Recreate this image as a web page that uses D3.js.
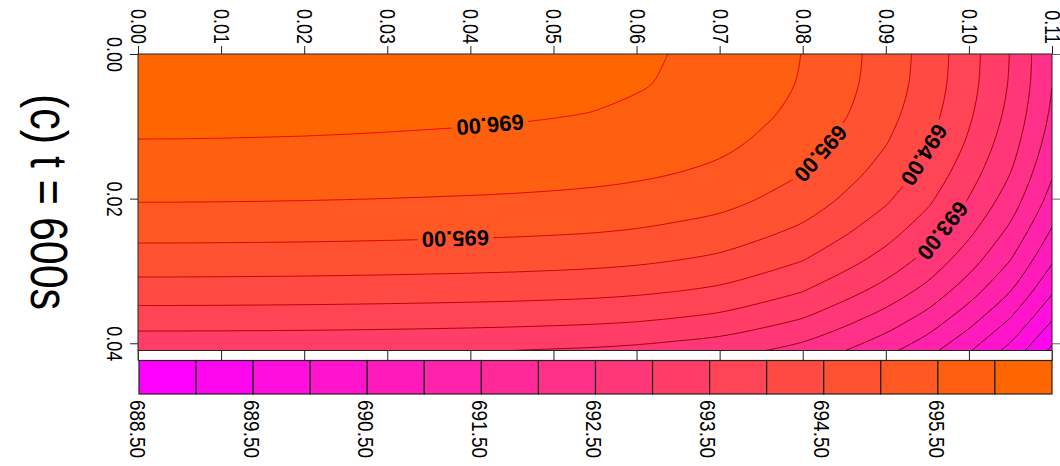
<!DOCTYPE html>
<html>
<head>
<meta charset="utf-8">
<script src="https://cdn.jsdelivr.net/npm/d3@7"></script>
<style>
  html, body { margin: 0; padding: 0; background: #fff; }
  svg { display: block; font-family: "Liberation Sans", Arial, Helvetica, sans-serif; }
</style>
</head>
<body>
<svg id="chart" width="1060" height="466"></svg>
<script>
// Temperature field sampled on a regular grid (x along the top, y downward)
const xGrid = [0, 0.005, 0.01, 0.015, 0.02, 0.025, 0.03, 0.035, 0.04, 0.045, 0.05, 0.055,
               0.06, 0.065, 0.07, 0.075, 0.08, 0.085, 0.09, 0.095, 0.1, 0.105, 0.11];
const yGrid = [0, 0.0041, 0.0082, 0.0123, 0.0164, 0.0205, 0.0246, 0.0287, 0.0328, 0.0369, 0.041];

const tempRows = [
  [696.250, 696.249, 696.246, 696.241, 696.235, 696.226, 696.215, 696.202, 696.188, 696.170, 696.145, 696.112, 696.060, 695.980, 695.880, 695.700, 695.490, 695.160, 694.790, 694.320, 693.700, 692.980, 692.040],
  [696.220, 696.219, 696.216, 696.211, 696.205, 696.196, 696.185, 696.172, 696.158, 696.140, 696.115, 696.082, 696.030, 695.950, 695.850, 695.670, 695.460, 695.130, 694.760, 694.290, 693.670, 692.950, 692.010],
  [696.130, 696.129, 696.126, 696.121, 696.115, 696.106, 696.095, 696.082, 696.068, 696.050, 696.025, 695.992, 695.940, 695.860, 695.760, 695.580, 695.370, 695.040, 694.670, 694.200, 693.580, 692.860, 691.920],
  [695.980, 695.979, 695.976, 695.971, 695.965, 695.956, 695.945, 695.932, 695.918, 695.900, 695.875, 695.842, 695.790, 695.710, 695.610, 695.430, 695.220, 694.890, 694.520, 694.050, 693.430, 692.710, 691.770],
  [695.770, 695.769, 695.766, 695.761, 695.755, 695.746, 695.735, 695.722, 695.708, 695.690, 695.665, 695.632, 695.580, 695.500, 695.400, 695.220, 695.010, 694.680, 694.310, 693.840, 693.220, 692.500, 691.560],
  [695.500, 695.499, 695.496, 695.491, 695.485, 695.476, 695.465, 695.452, 695.438, 695.420, 695.395, 695.362, 695.310, 695.230, 695.130, 694.950, 694.740, 694.410, 694.040, 693.570, 692.950, 692.230, 691.290],
  [695.150, 695.149, 695.146, 695.141, 695.135, 695.126, 695.115, 695.102, 695.088, 695.070, 695.045, 695.012, 694.960, 694.880, 694.780, 694.600, 694.390, 694.060, 693.690, 693.220, 692.600, 691.880, 690.940],
  [694.750, 694.749, 694.746, 694.741, 694.735, 694.726, 694.715, 694.702, 694.688, 694.670, 694.645, 694.612, 694.560, 694.480, 694.380, 694.200, 693.990, 693.660, 693.290, 692.820, 692.200, 691.480, 690.540],
  [694.270, 694.269, 694.266, 694.261, 694.255, 694.246, 694.235, 694.222, 694.208, 694.190, 694.165, 694.132, 694.080, 694.000, 693.900, 693.720, 693.510, 693.180, 692.810, 692.340, 691.720, 691.000, 690.060],
  [693.710, 693.709, 693.706, 693.701, 693.695, 693.686, 693.675, 693.662, 693.648, 693.630, 693.605, 693.572, 693.520, 693.440, 693.340, 693.160, 692.950, 692.620, 692.250, 691.780, 691.160, 690.440, 689.500],
  [693.100, 693.099, 693.096, 693.091, 693.085, 693.076, 693.065, 693.052, 693.028, 693.000, 692.965, 692.932, 692.875, 692.790, 692.690, 692.520, 692.320, 692.010, 691.640, 691.170, 690.550, 689.830, 688.890]
];

// Contour levels (band edges) and the colour bar ticks
const levels = [688.5, 689, 689.5, 690, 690.5, 691, 691.5, 692, 692.5, 693, 693.5, 694, 694.5, 695, 695.5, 696, 696.5];
const barTicks = [688.5, 689.5, 690.5, 691.5, 692.5, 693.5, 694.5, 695.5];
const xTicks = [0, 0.01, 0.02, 0.03, 0.04, 0.05, 0.06, 0.07, 0.08, 0.09, 0.10, 0.11];
const yTicks = [0, 0.02, 0.04];

// Inline contour labels: level and the spot near which it sits
const labelSpots = [
  { level: 696, x: 0.0424, y: 0.0102 },
  { level: 695, x: 0.0382, y: 0.0257 },
  { level: 695, x: 0.0822, y: 0.0138 },
  { level: 694, x: 0.0944, y: 0.0138 },
  { level: 693, x: 0.0966, y: 0.0242 }
];

const titleText = "(c) t = 600s";

// ---------------------------------------------------------------
const svg = d3.select("#chart");
const plot = { left: 138, right: 1052, top: 54, bottom: 350.5 };
const bar = { left: 139, right: 1052, top: 360.5, bottom: 394 };

const x = d3.scaleLinear().domain([0, 0.11]).range([plot.left, plot.right]);
const y = d3.scaleLinear().domain([0, 0.041]).range([plot.top, plot.bottom]);
const cb = d3.scaleLinear().domain([levels[0], levels[levels.length - 1]]).range([bar.left, bar.right]);

const nx = xGrid.length, ny = yGrid.length;
const dxg = xGrid[1] - xGrid[0], dyg = yGrid[1] - yGrid[0];
const values = tempRows.flat();

const contours = d3.contours().size([nx, ny]).thresholds(levels)(values);

// grid coordinate -> screen (sample i sits at grid coordinate i + 0.5)
const gx = px => x(xGrid[0] + (px - 0.5) * dxg);
const gy = py => y(yGrid[0] + (py - 0.5) * dyg);

// Band outline: the iso-line stretches are drawn as rounded curves,
// the stretches along the grid border stay straight.
const onEdge = p => p[0] <= 0 || p[0] >= nx || p[1] <= 0 || p[1] >= ny;
function ringPath(ring) {
  const pts = [];
  ring.slice(0, -1).forEach(p => {
    const last = pts[pts.length - 1];
    if (!last || Math.hypot(p[0] - last[0], p[1] - last[1]) > 1e-4) pts.push(p);
  });
  const n = pts.length;
  if (n < 3) return "";
  const P = pts.map(p => [gx(p[0]), gy(p[1])]);
  const ctx = d3.path();
  const s = pts.findIndex(onEdge);
  if (s < 0) {
    d3.line().curve(d3.curveCatmullRomClosed.alpha(0.5)).context(ctx)(P);
    return ctx.toString();
  }
  const cont = {
    moveTo: (a, b) => ctx.lineTo(a, b),
    lineTo: (a, b) => ctx.lineTo(a, b),
    bezierCurveTo: (a, b, c, d, e, f) => ctx.bezierCurveTo(a, b, c, d, e, f),
    closePath: () => {}
  };
  const runLine = d3.line().curve(d3.curveCatmullRom.alpha(0.5)).context(cont);
  ctx.moveTo(P[s][0], P[s][1]);
  let run = [];
  for (let k = 1; k <= n; k++) {
    const i = (s + k) % n;
    if (onEdge(pts[i])) {
      if (run.length) { runLine(run); run = []; }
      ctx.lineTo(P[i][0], P[i][1]);
    } else {
      run.push(P[i]);
    }
  }
  if (run.length) runLine(run);
  ctx.closePath();
  return ctx.toString();
}
const bandPath = mp => mp.coordinates.map(poly => poly.map(ringPath).join("")).join("");

const bandColor = d3.scaleLinear()
  .domain([0, levels.length - 2])
  .range(["#ff00ff", "#ff6600"])
  .interpolate(d3.interpolateRgb);
const lineColor = v => d3.interpolateRgb("#000000", "#ff0000")((v - levels[0]) / (levels[levels.length - 1] - levels[0]));

const defs = svg.append("defs");
defs.append("clipPath").attr("id", "plotClip")
  .append("rect")
  .attr("x", plot.left).attr("y", plot.top)
  .attr("width", plot.right - plot.left).attr("height", plot.bottom - plot.top);

// filled bands
const fills = svg.append("g").attr("clip-path", "url(#plotClip)");
fills.selectAll("path")
  .data(contours)
  .join("path")
  .attr("d", bandPath)
  .attr("fill", (d, i) => bandColor(Math.min(i, levels.length - 2)))
  .attr("stroke", "none");

// label placement on the contour lines
const fmt = d3.format(".2f");
function placeLabel(spot) {
  const c = contours.find(d => Math.abs(d.value - spot.level) < 1e-9);
  const tx = x(spot.x), ty = y(spot.y);
  let best = null;
  c.coordinates.forEach(poly => poly.forEach(ring => {
    const pts = ring.map(p => [gx(p[0]), gy(p[1])]);
    for (let i = 0; i < pts.length - 1; i++) {
      const a = pts[i], b = pts[i + 1];
      const vx = b[0] - a[0], vy = b[1] - a[1];
      const L2 = vx * vx + vy * vy;
      if (!L2) continue;
      let t = ((tx - a[0]) * vx + (ty - a[1]) * vy) / L2;
      t = Math.max(0, Math.min(1, t));
      const px = a[0] + t * vx, py = a[1] + t * vy;
      const dd = (px - tx) ** 2 + (py - ty) ** 2;
      if (!best || dd < best.dd) best = { dd, px, py, vx, vy };
    }
  }));
  let ang = Math.atan2(best.vy, best.vx) * 180 / Math.PI;
  if (Math.cos(ang * Math.PI / 180) > 0) ang += 180;
  return { x: best.px, y: best.py, angle: ang, text: fmt(spot.level) };
}
const labels = labelSpots.map(placeLabel);

// mask cutting the lines under each label
const mask = defs.append("mask").attr("id", "labelGaps").attr("maskUnits", "userSpaceOnUse")
  .attr("x", 0).attr("y", 0).attr("width", 1060).attr("height", 466);
mask.append("rect").attr("x", 0).attr("y", 0).attr("width", 1060).attr("height", 466).attr("fill", "#fff");
mask.selectAll("rect.gap")
  .data(labels)
  .join("rect")
  .attr("class", "gap")
  .attr("x", -38).attr("y", -9).attr("width", 76).attr("height", 18)
  .attr("fill", "#000")
  .attr("transform", d => `translate(${d.x},${d.y}) rotate(${d.angle})`);

// contour lines
const lines = svg.append("g").attr("clip-path", "url(#plotClip)")
  .append("g").attr("mask", "url(#labelGaps)");
lines.selectAll("path")
  .data(contours.filter(d => d.value > levels[0] && d.value < levels[levels.length - 1]))
  .join("path")
  .attr("d", bandPath)
  .attr("fill", "none")
  .attr("stroke", d => lineColor(d.value))
  .attr("stroke-width", 0.9);

svg.append("g").selectAll("text")
  .data(labels)
  .join("text")
  .attr("transform", d => `translate(${d.x},${d.y}) rotate(${d.angle})`)
  .attr("text-anchor", "middle")
  .attr("dy", "0.36em")
  .attr("font-size", 22)
  .attr("font-weight", "bold")
  .attr("fill", "#000")
  .text(d => d.text);

// frame
svg.append("rect")
  .attr("x", plot.left).attr("y", plot.top)
  .attr("width", plot.right - plot.left).attr("height", plot.bottom - plot.top)
  .attr("fill", "none").attr("stroke", "#222").attr("stroke-width", 1);

function styleAxis(g) {
  g.select(".domain").remove();
  g.selectAll(".tick line").attr("stroke", "#222").attr("stroke-width", 1);
  g.attr("font-family", null).attr("font-size", null);
}

// top axis
const topAxis = svg.append("g")
  .attr("transform", `translate(0,${plot.top})`)
  .call(d3.axisTop(x).tickValues(xTicks).tickSize(8).tickFormat(d3.format(".2f")))
  .call(styleAxis);
topAxis.selectAll(".tick text")
  .attr("x", 0).attr("y", 0).attr("dy", 0)
  .attr("text-anchor", "end")
  .attr("font-size", 18)
  .attr("fill", "#000")
  .attr("transform", "translate(-7.5,-10) rotate(90) scale(1,1.22)");

// left axis
const leftAxis = svg.append("g")
  .attr("transform", `translate(${plot.left},0)`)
  .call(d3.axisLeft(y).tickValues(yTicks).tickSize(8).tickFormat(d3.format(".2f")))
  .call(styleAxis);
leftAxis.selectAll(".tick text")
  .attr("x", 0).attr("y", 0).attr("dy", 0)
  .attr("text-anchor", "middle")
  .attr("font-size", 18)
  .attr("fill", "#000")
  .attr("transform", "translate(-31,0) rotate(90) scale(1,1.22)");

// right axis (ticks only)
svg.append("g")
  .attr("transform", `translate(${plot.right},0)`)
  .call(d3.axisRight(y).tickValues(yTicks).tickSize(8).tickFormat(""))
  .call(styleAxis)
  .selectAll(".tick line").attr("stroke", "#666");

// bottom axis (ticks in the gap above the colour bar)
svg.append("g")
  .attr("transform", `translate(0,${plot.bottom})`)
  .call(d3.axisBottom(x).tickValues(xTicks).tickSize(bar.top - plot.bottom).tickFormat(""))
  .call(styleAxis);
svg.append("path")
  .attr("d", `M${plot.left},${plot.bottom}V${bar.top}H${plot.right}V${plot.bottom}`)
  .attr("fill", "none").attr("stroke", "#444").attr("stroke-width", 1);

// colour bar
const barG = svg.append("g");
barG.selectAll("rect")
  .data(levels.slice(0, -1))
  .join("rect")
  .attr("x", (d) => cb(d))
  .attr("y", bar.top)
  .attr("width", (d, i) => cb(levels[i + 1]) - cb(d))
  .attr("height", bar.bottom - bar.top)
  .attr("fill", (d, i) => bandColor(i))
  .attr("stroke", "#222")
  .attr("stroke-width", 1.2);

barG.selectAll("text")
  .data(barTicks)
  .join("text")
  .attr("transform", d => `translate(${cb(d) - 9.3},400) rotate(90) scale(1,1.18)`)
  .attr("text-anchor", "start")
  .attr("font-size", 19)
  .attr("fill", "#000")
  .text(d => fmt(d));

// title
svg.append("text")
  .attr("transform", "translate(31,202) rotate(90) scale(1,1.2)")
  .attr("text-anchor", "middle")
  .attr("font-size", 43)
  .attr("fill", "#000")
  .text(titleText);
</script>
</body>
</html>
